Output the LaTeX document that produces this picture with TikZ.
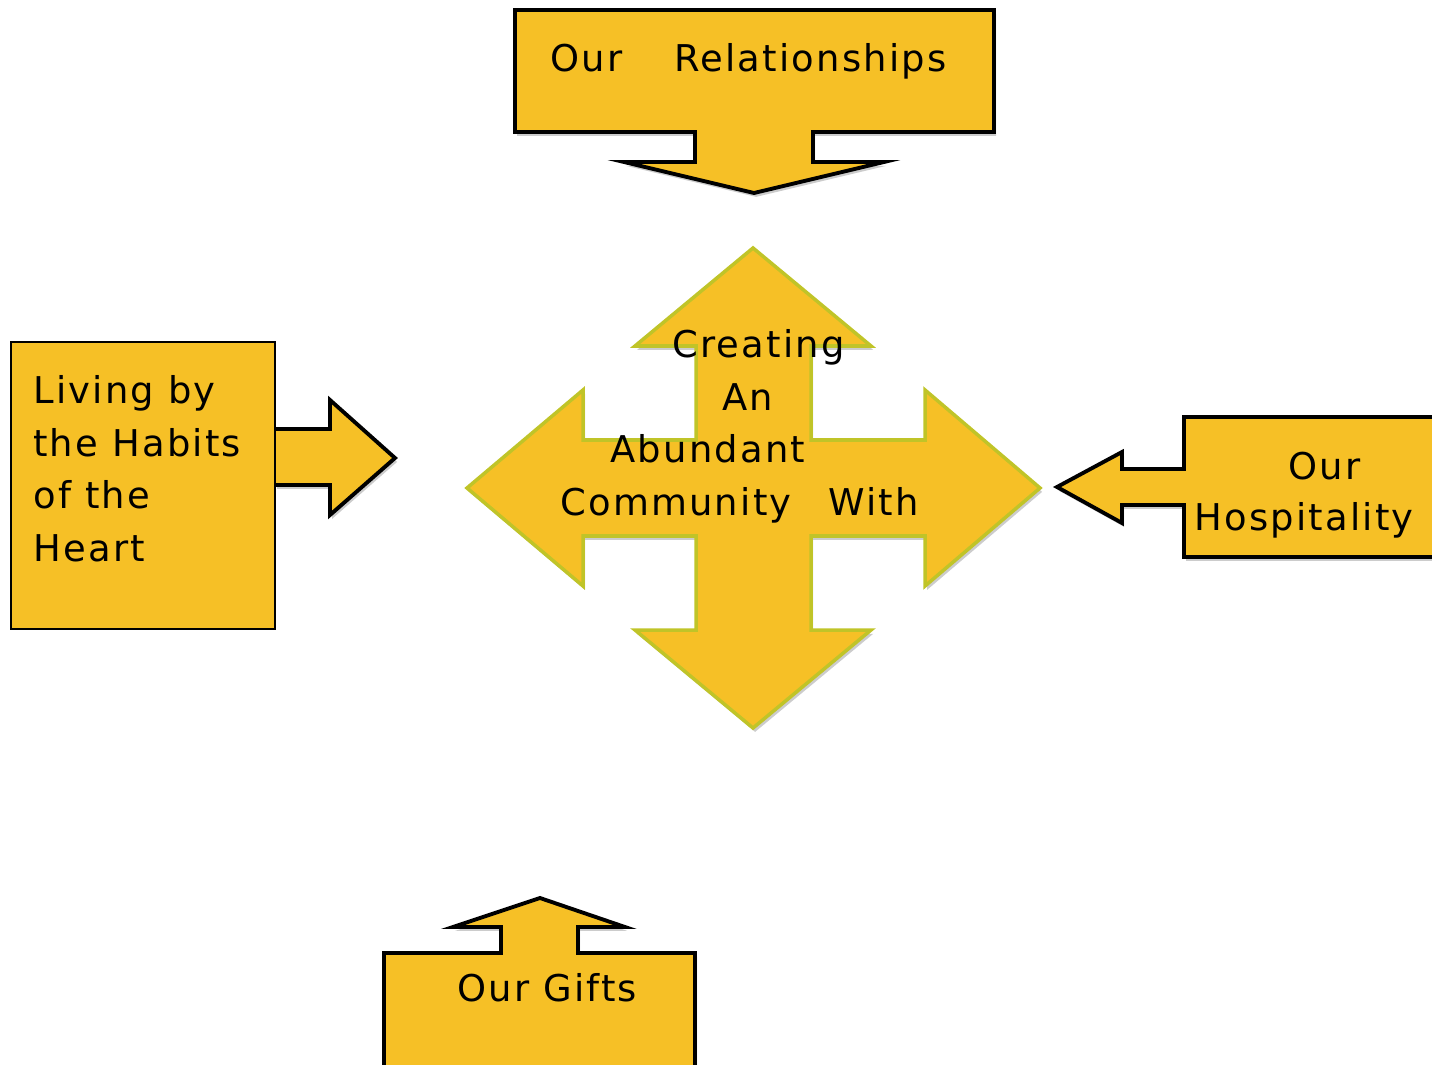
\documentclass[tikz,border=0pt]{standalone}
\usepackage{fontspec}
\usepackage{xcolor}
\usepackage{tikz}
\usetikzlibrary{positioning,shadows}
\newfontfamily\lblfont[LetterSpace=6]{DejaVu Sans}
\definecolor{gold}{RGB}{246,192,38}
\definecolor{olive}{RGB}{192,196,40}

\begin{document}
\begin{tikzpicture}[x=0.02cm, y=-0.02cm,
						callout/.style={fill=gold, draw=black, line width=2.2pt, line join=miter,
							drop shadow={shadow xshift=1.2pt, shadow yshift=-2.2pt, fill=black!20, opacity=1}},
						plainbox/.style={fill=gold, draw=black, line width=0.9pt},
						crossarrow/.style={fill=gold, draw=olive, line width=2pt, line join=miter,
							drop shadow={shadow xshift=1.2pt, shadow yshift=-2.2pt, fill=black!20, opacity=1}},
						lbl/.style={anchor=base west, inner sep=0pt, font=\lblfont\fontsize{21pt}{30pt}\selectfont}
						]
						\useasboundingbox (0,0) rectangle (1432,1064);
						
						% top callout
						\filldraw[callout] (515,10) -- (994,10) -- (994,132) -- (813,132) -- (813,162) -- (884,162)
							-- (754,193) -- (624,162) -- (695,162) -- (695,132) -- (515,132) -- cycle;
						\node[lbl] (rel1) at (550,72) {Our};
						\node[lbl] (rel2) at (674,72) {Relationships};
						
						% left box and arrow
						\filldraw[callout] (275,429) -- (330,429) -- (330,400) -- (395,458) -- (330,515) -- (330,485) -- (275,485);
						\filldraw[plainbox] (11,342) rectangle (275,629);
						\node[lbl] (liv1) at (33,403) {Living by};
						\node[lbl] (liv2) at (33,456) {the Habits};
						\node[lbl] (liv3) at (33,508) {of the};
						\node[lbl] (liv4) at (33,561) {Heart};
						
						% centre cross
						\filldraw[crossarrow] (753,248) -- (871,346) -- (811,346) -- (811,440) -- (925,440) -- (925,390)
							-- (1040,488) -- (925,586) -- (925,536) -- (811,536) -- (811,630) -- (871,630)
							-- (753,728) -- (635,630) -- (696,630) -- (696,536) -- (583,536) -- (583,586)
							-- (467,488) -- (583,390) -- (583,440) -- (696,440) -- (696,346) -- (635,346) -- cycle;
						\node[lbl] (cre1) at (672,357) {Creating};
						\node[lbl] (cre2) at (722,410) {An};
						\node[lbl] (cre3) at (610,462) {Abundant};
						\node[lbl] (cre4) at (560,515) {Community};
						\node[lbl] (cre5) at (828,515) {With};
						
						% right callout
						\filldraw[callout] (1184,417) -- (1440,417) -- (1440,557) -- (1184,557) -- (1184,505) -- (1122,505)
							-- (1122,523) -- (1057,487) -- (1122,452) -- (1122,469) -- (1184,469) -- cycle;
						\node[lbl] (hos1) at (1288,479) {Our};
						\node[lbl] (hos2) at (1194,530) {Hospitality};
						
						% bottom callout
						\filldraw[callout] (384,1075) -- (384,953) -- (501,953) -- (501,927) -- (453,927) -- (540,898)
							-- (625,927) -- (578,927) -- (578,953) -- (695,953) -- (695,1075);
						\node[lbl] (gif) at (457,1001) {Our Gifts};
					\end{tikzpicture}
\end{document}
